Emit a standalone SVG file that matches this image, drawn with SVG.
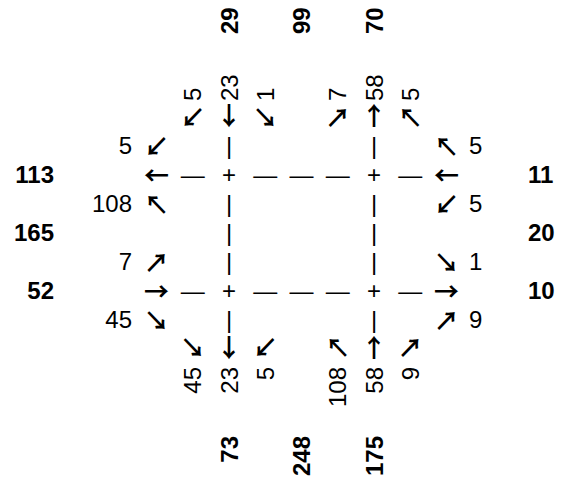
<svg xmlns="http://www.w3.org/2000/svg" width="563" height="481" viewBox="0 0 563 481">
<style>
text{font-family:"Liberation Sans",Arial,sans-serif;font-size:24px;fill:#000;dominant-baseline:central}
.b{font-weight:bold}
.a{font-family:"Noto Sans CJK JP","DejaVu Sans",sans-serif;font-size:25px;font-weight:bold;text-anchor:middle}
.m{text-anchor:middle}
.e{text-anchor:end}
.s{text-anchor:start}
</style>
<rect width="563" height="481" fill="#fff"/>
<g id="connectors">
<text class="m" x="192.75" y="174">—</text>
<text class="m" x="265.25" y="174">—</text>
<text class="m" x="301.5" y="174">—</text>
<text class="m" x="337.75" y="174">—</text>
<text class="m" x="410.25" y="174">—</text>
<text class="m" x="192.75" y="290">—</text>
<text class="m" x="265.25" y="290">—</text>
<text class="m" x="301.5" y="290">—</text>
<text class="m" x="337.75" y="290">—</text>
<text class="m" x="410.25" y="290">—</text>
<text class="m" x="229" y="145">|</text>
<text class="m" x="229" y="203">|</text>
<text class="m" x="229" y="232">|</text>
<text class="m" x="229" y="261">|</text>
<text class="m" x="229" y="319">|</text>
<text class="m" x="374" y="145">|</text>
<text class="m" x="374" y="203">|</text>
<text class="m" x="374" y="232">|</text>
<text class="m" x="374" y="261">|</text>
<text class="m" x="374" y="319">|</text>
</g>
<g id="node-nw"><text class="m" x="229" y="174">+</text></g>
<g id="node-ne"><text class="m" x="374" y="174">+</text></g>
<g id="node-sw"><text class="m" x="229" y="290">+</text></g>
<g id="node-se"><text class="m" x="374" y="290">+</text></g>
<g id="west">
<text class="a" x="156.5" y="145">↙</text>
<text class="a" x="156.5" y="174">←</text>
<text class="a" x="156.5" y="203">↖</text>
<text class="a" x="156.5" y="261">↗</text>
<text class="a" x="156.5" y="290">→</text>
<text class="a" x="156.5" y="319">↘</text>
<text class="e" x="132" y="145">5</text>
<text class="e" x="132" y="203">108</text>
<text class="e" x="132" y="261">7</text>
<text class="e" x="132" y="319">45</text>
<text class="e b" x="54" y="174">113</text>
<text class="e b" x="54" y="232">165</text>
<text class="e b" x="54" y="290">52</text>
</g>
<g id="east">
<text class="a" x="446.5" y="145">↖</text>
<text class="a" x="446.5" y="174">←</text>
<text class="a" x="446.5" y="203">↙</text>
<text class="a" x="446.5" y="261">↘</text>
<text class="a" x="446.5" y="290">→</text>
<text class="a" x="446.5" y="319">↗</text>
<text class="s" x="469" y="145">5</text>
<text class="s" x="469" y="203">5</text>
<text class="s" x="469" y="261">1</text>
<text class="s" x="469" y="319">9</text>
<text class="s b" x="528" y="174">11</text>
<text class="s b" x="528" y="232">20</text>
<text class="s b" x="528" y="290">10</text>
</g>
<g id="north">
<text class="a" x="192.75" y="116">↙</text>
<text class="a" x="229" y="114">↓</text>
<text class="a" x="265.25" y="116">↘</text>
<text class="a" x="337.75" y="116">↗</text>
<text class="a" x="374" y="114">↑</text>
<text class="a" x="410.25" y="116">↖</text>
<text class="s" transform="translate(192.75,101) rotate(-90)">5</text>
<text class="s" transform="translate(229,101) rotate(-90)">23</text>
<text class="s" transform="translate(265.25,101) rotate(-90)">1</text>
<text class="s" transform="translate(337.75,101) rotate(-90)">7</text>
<text class="s" transform="translate(374,101) rotate(-90)">58</text>
<text class="s" transform="translate(410.25,101) rotate(-90)">5</text>
<text class="s b" transform="translate(229,34) rotate(-90)">29</text>
<text class="s b" transform="translate(301.5,34) rotate(-90)">99</text>
<text class="s b" transform="translate(374,34) rotate(-90)">70</text>
</g>
<g id="south">
<text class="a" x="192.75" y="346">↘</text>
<text class="a" x="229" y="346">↓</text>
<text class="a" x="265.25" y="346">↙</text>
<text class="a" x="337.75" y="346">↖</text>
<text class="a" x="374" y="346">↑</text>
<text class="a" x="410.25" y="346">↗</text>
<text class="e" transform="translate(192.75,367) rotate(-90)">45</text>
<text class="e" transform="translate(229,367) rotate(-90)">23</text>
<text class="e" transform="translate(265.25,367) rotate(-90)">5</text>
<text class="e" transform="translate(337.75,367) rotate(-90)">108</text>
<text class="e" transform="translate(374,367) rotate(-90)">58</text>
<text class="e" transform="translate(410.25,367) rotate(-90)">9</text>
<text class="e b" transform="translate(229,436) rotate(-90)">73</text>
<text class="e b" transform="translate(301.5,436) rotate(-90)">248</text>
<text class="e b" transform="translate(374,436) rotate(-90)">175</text>
</g>
</svg>
